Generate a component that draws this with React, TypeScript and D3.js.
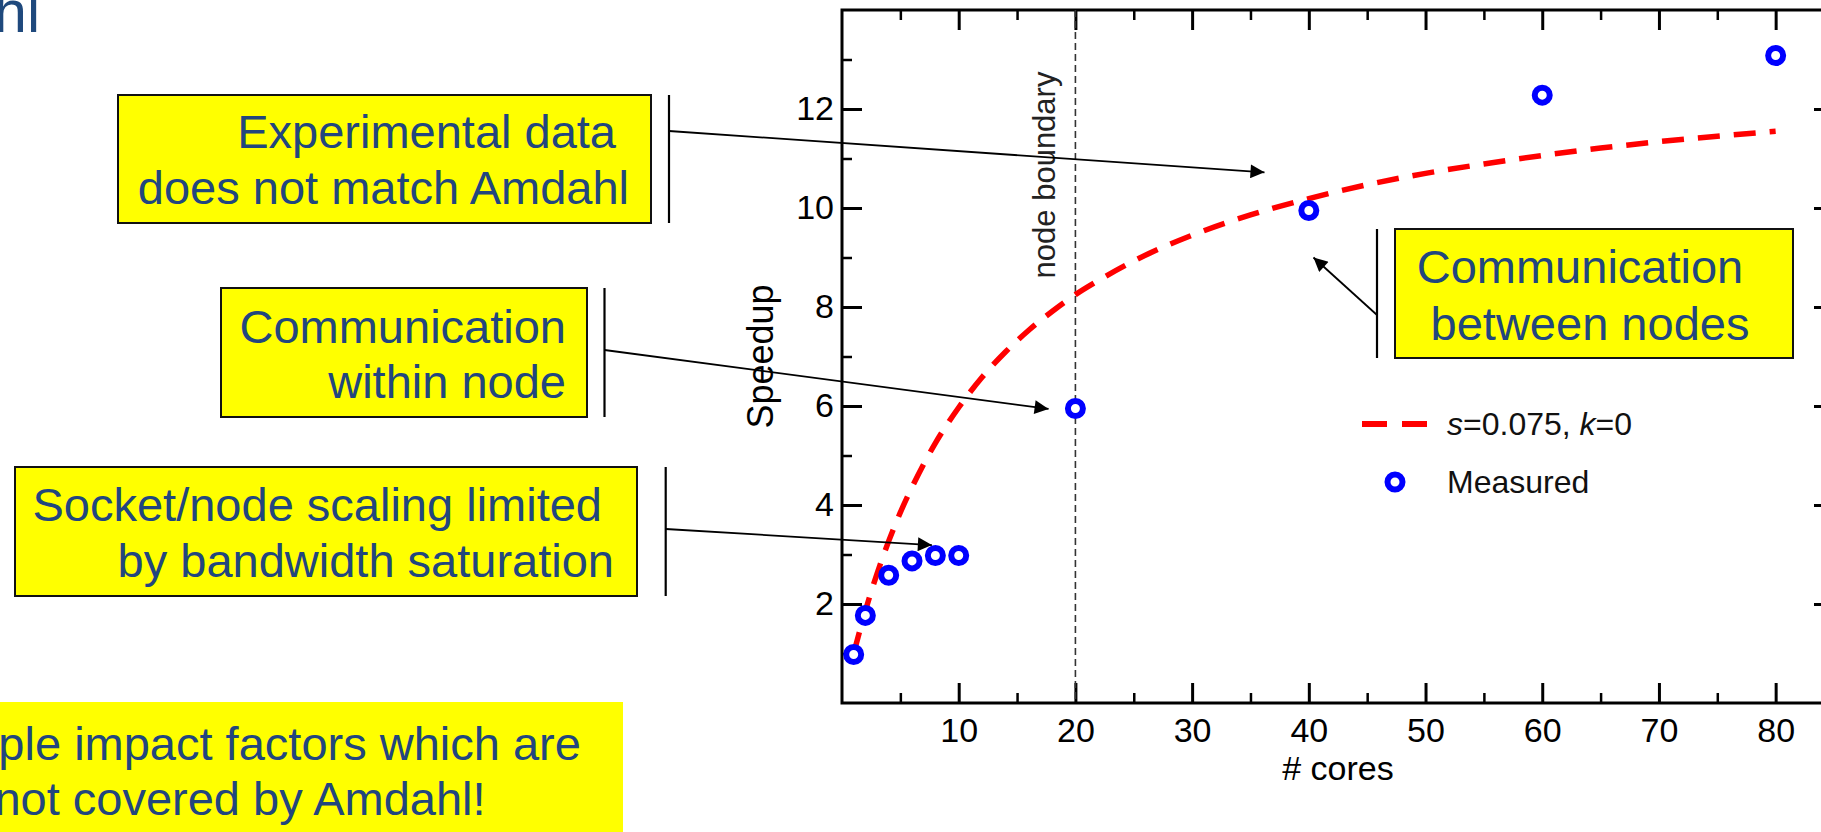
import React, { useRef, useEffect } from 'react';
import * as d3 from 'd3';

// dashed fit curve (s=0.075, k=0)
const fitCores = [1, 2, 3, 4, 5, 6, 8, 10, 12, 14, 16, 18, 20, 22, 25, 30, 35, 40, 45, 50, 55, 60, 65, 70, 75, 80];
const fitSpeedup = [1.0, 1.86, 2.61, 3.27, 3.85, 4.36, 5.25, 5.97, 6.58, 7.09, 7.53, 7.91, 8.25, 8.54, 8.93, 9.45, 9.86, 10.19, 10.47, 10.7, 10.89, 11.06, 11.21, 11.34, 11.45, 11.55];

// measured speedup
const measuredCores = [1, 2, 4, 6, 8, 10, 20, 40, 60, 80];
const measuredSpeedup = [0.98, 1.77, 2.58, 2.87, 2.98, 2.98, 5.95, 9.95, 12.28, 13.08];

const xMajorTicks = [10, 20, 30, 40, 50, 60, 70, 80];
const xMinorTicks = [5, 15, 25, 35, 45, 55, 65, 75];
const yMajorTicks = [2, 4, 6, 8, 10, 12];
const yMinorTicks = [1, 3, 5, 7, 9, 11, 13];

const nodeBoundary = 20;

const noteExperimental = ['Experimental data', 'does not match Amdahl'];
const noteWithin = ['Communication', 'within node'];
const noteSocket = ['Socket/node scaling limited', 'by bandwidth saturation'];
const noteBetween = ['Communication', 'between nodes'];
const noteBottom = ['Multiple impact factors which are', 'not covered by Amdahl!'];

const FONT = '"Liberation Sans", Arial, Helvetica, sans-serif';
const NOTE_BLUE = '#22467e';

const App = () => {
    const svgRef = useRef(null);

    useEffect(() => {
        const width = 1821;
        const height = 832;
        const left = 842;
        const right = 1834;
        const top = 10;
        const bottom = 703;

        const x = d3.scaleLinear([0, 85], [left, right]);
        const y = d3.scaleLinear([0, 14], [bottom, top]);

        const svg = d3.select(svgRef.current);
        svg.selectAll('*').remove();
        svg.attr('width', width).attr('height', height).attr('viewBox', [0, 0, width, height]);

        svg.append('defs').append('marker')
            .attr('id', 'arrowhead')
            .attr('viewBox', '0 0 10 10')
            .attr('refX', 10)
            .attr('refY', 5)
            .attr('markerWidth', 17)
            .attr('markerHeight', 14)
            .attr('markerUnits', 'userSpaceOnUse')
            .attr('orient', 'auto')
            .append('path')
            .attr('d', 'M0,0L10,5L0,10z')
            .attr('fill', '#000');

        // slide title fragment
        svg.append('text')
            .attr('x', 40)
            .attr('y', 32)
            .attr('text-anchor', 'end')
            .attr('font-family', FONT)
            .attr('font-size', 59)
            .attr('fill', '#1f497d')
            .text('Amdahl');

        // axes: ticks point inward on all four sides
        const styleAxis = (g, major) => {
            g.select('.domain').remove();
            g.selectAll('.tick line').attr('stroke', '#000').attr('stroke-width', major ? 3 : 2.5);
            g.selectAll('text')
                .attr('font-family', FONT)
                .attr('font-size', 34)
                .attr('fill', '#000');
        };

        svg.append('g')
            .attr('transform', `translate(0,${bottom})`)
            .call(d3.axisBottom(x).tickValues(xMajorTicks).tickSize(-20).tickPadding(15).tickFormat(d3.format('d')))
            .call(g => styleAxis(g, true));
        svg.append('g')
            .attr('transform', `translate(0,${bottom})`)
            .call(d3.axisBottom(x).tickValues(xMinorTicks).tickSize(-10).tickFormat(() => ''))
            .call(g => styleAxis(g, false));
        svg.append('g')
            .attr('transform', `translate(0,${top})`)
            .call(d3.axisTop(x).tickValues(xMajorTicks).tickSize(-20).tickFormat(() => ''))
            .call(g => styleAxis(g, true));
        svg.append('g')
            .attr('transform', `translate(0,${top})`)
            .call(d3.axisTop(x).tickValues(xMinorTicks).tickSize(-10).tickFormat(() => ''))
            .call(g => styleAxis(g, false));

        svg.append('g')
            .attr('transform', `translate(${left},0)`)
            .call(d3.axisLeft(y).tickValues(yMajorTicks).tickSize(-20).tickPadding(8).tickFormat(d3.format('d')))
            .call(g => styleAxis(g, true));
        svg.append('g')
            .attr('transform', `translate(${left},0)`)
            .call(d3.axisLeft(y).tickValues(yMinorTicks).tickSize(-10).tickFormat(() => ''))
            .call(g => styleAxis(g, false));
        svg.append('g')
            .attr('transform', `translate(${right},0)`)
            .call(d3.axisRight(y).tickValues(yMajorTicks).tickSize(-20).tickFormat(() => ''))
            .call(g => styleAxis(g, true));
        svg.append('g')
            .attr('transform', `translate(${right},0)`)
            .call(d3.axisRight(y).tickValues(yMinorTicks).tickSize(-10).tickFormat(() => ''))
            .call(g => styleAxis(g, false));

        svg.append('rect')
            .attr('x', left)
            .attr('y', top)
            .attr('width', right - left)
            .attr('height', bottom - top)
            .attr('fill', 'none')
            .attr('stroke', '#000')
            .attr('stroke-width', 3);

        svg.append('text')
            .attr('x', (left + right) / 2)
            .attr('y', 780)
            .attr('text-anchor', 'middle')
            .attr('font-family', FONT)
            .attr('font-size', 34)
            .text('# cores');

        svg.append('text')
            .attr('transform', `translate(773,${(top + bottom) / 2}) rotate(-90)`)
            .attr('text-anchor', 'middle')
            .attr('font-family', FONT)
            .attr('font-size', 36)
            .text('Speedup');

        // node boundary
        svg.append('line')
            .attr('x1', x(nodeBoundary))
            .attr('x2', x(nodeBoundary))
            .attr('y1', top)
            .attr('y2', bottom)
            .attr('stroke', '#333')
            .attr('stroke-width', 1.6)
            .attr('stroke-dasharray', '7 4');
        svg.append('text')
            .attr('transform', `translate(${x(nodeBoundary) - 20},175) rotate(-90)`)
            .attr('text-anchor', 'middle')
            .attr('font-family', FONT)
            .attr('font-size', 31)
            .attr('fill', '#222')
            .text('node boundary');

        // fit curve
        const fit = fitCores.map((c, i) => [c, fitSpeedup[i]]);
        const line = d3.line()
            .x(d => x(d[0]))
            .y(d => y(d[1]))
            .curve(d3.curveMonotoneX);
        svg.append('path')
            .attr('d', line(fit))
            .attr('fill', 'none')
            .attr('stroke', '#ff0000')
            .attr('stroke-width', 5.5)
            .attr('stroke-dasharray', '22 14');

        // measured points
        svg.append('g')
            .selectAll('circle')
            .data(measuredCores.map((c, i) => [c, measuredSpeedup[i]]))
            .join('circle')
            .attr('cx', d => x(d[0]))
            .attr('cy', d => y(d[1]))
            .attr('r', 7.5)
            .attr('fill', '#fff')
            .attr('stroke', '#0000ff')
            .attr('stroke-width', 6);

        // legend
        const legend = svg.append('g').attr('font-family', FONT).attr('font-size', 32).attr('fill', '#111');
        legend.append('line')
            .attr('x1', 1362).attr('x2', 1427)
            .attr('y1', 424).attr('y2', 424)
            .attr('stroke', '#ff0000')
            .attr('stroke-width', 6)
            .attr('stroke-dasharray', '25 15');
        const fitLabel = legend.append('text').attr('x', 1447).attr('y', 435);
        fitLabel.append('tspan').attr('font-style', 'italic').text('s');
        fitLabel.append('tspan').text('=0.075, ');
        fitLabel.append('tspan').attr('font-style', 'italic').text('k');
        fitLabel.append('tspan').text('=0');
        legend.append('circle')
            .attr('cx', 1395).attr('cy', 482)
            .attr('r', 7.5)
            .attr('fill', '#fff')
            .attr('stroke', '#0000ff')
            .attr('stroke-width', 6);
        legend.append('text').attr('x', 1447).attr('y', 493).text('Measured');

        // callout boxes with bar + arrow
        const callout = (lines, box, anchor, textX, baselines, barX, from, to) => {
            const g = svg.append('g');
            g.append('rect')
                .attr('x', box[0]).attr('y', box[1])
                .attr('width', box[2]).attr('height', box[3])
                .attr('fill', '#ffff00')
                .attr('stroke', '#111')
                .attr('stroke-width', 2);
            lines.forEach((t, i) => {
                g.append('text')
                    .attr('x', textX[i])
                    .attr('y', baselines[i])
                    .attr('text-anchor', anchor)
                    .attr('font-family', FONT)
                    .attr('font-size', 47)
                    .attr('fill', NOTE_BLUE)
                    .text(t);
            });
            g.append('line')
                .attr('x1', barX).attr('x2', barX)
                .attr('y1', box[1]).attr('y2', box[1] + box[3])
                .attr('stroke', '#000')
                .attr('stroke-width', 2.2);
            g.append('line')
                .attr('x1', from[0]).attr('y1', from[1])
                .attr('x2', x(to[0])).attr('y2', y(to[1]))
                .attr('stroke', '#000')
                .attr('stroke-width', 1.8)
                .attr('marker-end', 'url(#arrowhead)');
        };

        callout(noteExperimental, [118, 95, 533, 128], 'end', [616, 629], [148, 204], 669, [669, 131], [36.2, 10.72]);
        callout(noteWithin, [221, 288, 366, 129], 'end', [566, 566], [343, 398], 604.5, [604.5, 350], [17.7, 5.94]);
        callout(noteSocket, [15, 467, 622, 129], 'end', [602, 614], [521, 577], 665.7, [665.7, 529], [7.7, 3.19]);
        callout(noteBetween, [1395, 229, 398, 129], 'middle', [1580, 1590], [283, 340], 1377, [1377, 315], [40.4, 9.0]);

        // bottom summary box
        svg.append('rect')
            .attr('x', 0).attr('y', 702)
            .attr('width', 623).attr('height', height - 702)
            .attr('fill', '#ffff00');
        noteBottom.forEach((t, i) => {
            svg.append('text')
                .attr('x', 240)
                .attr('y', 760 + i * 55)
                .attr('text-anchor', 'middle')
                .attr('font-family', FONT)
                .attr('font-size', 47)
                .attr('fill', NOTE_BLUE)
                .text(t);
        });
    }, []);

    return (
        <svg ref={svgRef} style={{ position: 'absolute', left: 0, top: 0, background: '#fff' }} />
    );
};

export default App;
